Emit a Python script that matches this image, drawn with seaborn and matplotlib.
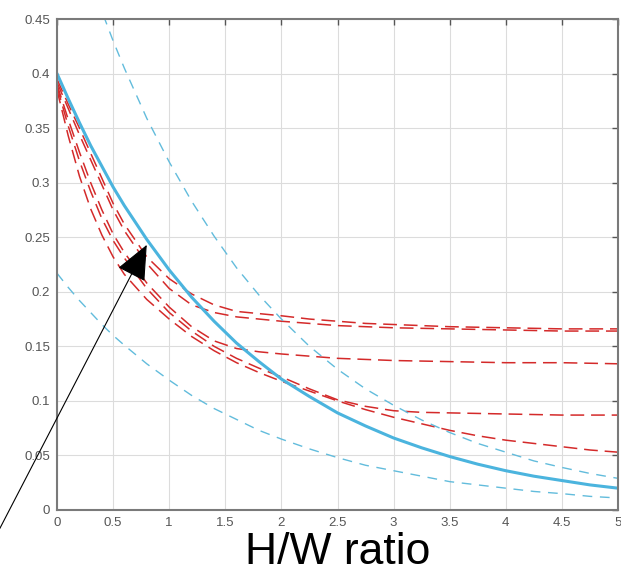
import matplotlib
matplotlib.use("Agg")
import matplotlib.pyplot as plt
import seaborn as sns
import pandas as pd

# ---- data ----
x = [0, 0.1, 0.2, 0.3, 0.4, 0.5, 0.6, 0.8, 1.0, 1.2, 1.4, 1.6, 1.8, 2.0,
     2.25, 2.5, 2.75, 3.0, 3.25, 3.5, 3.75, 4.0, 4.25, 4.5, 4.75, 5.0]

main_curve = [0.400, 0.377, 0.355, 0.334, 0.315, 0.296, 0.279, 0.248, 0.220, 0.195,
              0.173, 0.153, 0.136, 0.120, 0.104, 0.089, 0.077, 0.066, 0.057, 0.049,
              0.042, 0.036, 0.031, 0.027, 0.023, 0.020]
upper_bound = [0.580, 0.547, 0.515, 0.485, 0.457, 0.430, 0.405, 0.359, 0.319, 0.283,
               0.251, 0.222, 0.197, 0.175, 0.150, 0.129, 0.111, 0.096, 0.0825, 0.071,
               0.061, 0.053, 0.045, 0.039, 0.0335, 0.029]
lower_bound = [0.217, 0.204, 0.192, 0.181, 0.170, 0.160, 0.151, 0.134, 0.119, 0.105,
               0.093, 0.083, 0.073, 0.065, 0.056, 0.048, 0.041, 0.036, 0.031, 0.026,
               0.023, 0.020, 0.017, 0.015, 0.0125, 0.011]

red_a = [0.395, 0.372, 0.350, 0.327, 0.304, 0.281, 0.262, 0.232, 0.212, 0.198,
         0.188, 0.182, 0.180, 0.178, 0.175, 0.173, 0.171, 0.170, 0.169, 0.168,
         0.1675, 0.167, 0.1665, 0.166, 0.166, 0.166]
red_b = [0.392, 0.368, 0.344, 0.321, 0.298, 0.275, 0.256, 0.226, 0.203, 0.188,
         0.181, 0.177, 0.175, 0.173, 0.171, 0.169, 0.168, 0.167, 0.1665, 0.166,
         0.1655, 0.165, 0.1645, 0.164, 0.164, 0.164]
red_c = [0.390, 0.358, 0.328, 0.300, 0.275, 0.253, 0.236, 0.208, 0.186, 0.168,
         0.155, 0.148, 0.145, 0.143, 0.141, 0.139, 0.138, 0.137, 0.1365, 0.136,
         0.1355, 0.135, 0.135, 0.135, 0.1345, 0.134]
red_d = [0.388, 0.352, 0.320, 0.292, 0.267, 0.247, 0.231, 0.203, 0.181, 0.164,
         0.150, 0.139, 0.130, 0.122, 0.111, 0.101, 0.095, 0.091, 0.0895, 0.089,
         0.0885, 0.088, 0.0875, 0.087, 0.087, 0.087]
red_e = [0.385, 0.343, 0.306, 0.276, 0.252, 0.232, 0.216, 0.193, 0.175, 0.159,
         0.146, 0.135, 0.126, 0.118, 0.109, 0.100, 0.092, 0.085, 0.079, 0.073,
         0.068, 0.064, 0.061, 0.058, 0.055, 0.053]

x_ticks = [0, 0.5, 1, 1.5, 2, 2.5, 3, 3.5, 4, 4.5, 5]
x_tick_labels = ["0", "0.5", "1", "1.5", "2", "2.5", "3", "3.5", "4", "4.5", "5"]
y_ticks = [0, 0.05, 0.1, 0.15, 0.2, 0.25, 0.3, 0.35, 0.4, 0.45]
y_tick_labels = ["0", "0.05", "0.1", "0.15", "0.2", "0.25", "0.3", "0.35", "0.4", "0.45"]
x_label = "H/W ratio"

# ---- figure ----
sns.set_style("white")
plt.rcParams["font.family"] = ["Liberation Sans", "DejaVu Sans"]

fig = plt.figure(figsize=(6.21, 5.75), dpi=100)
ax = fig.add_axes([57 / 621, 65 / 575, 561 / 621, 491 / 575])

red = "#d42a2a"
cyan_solid = "#4bb4de"
cyan_dash = "#62bcdc"

for series in [red_a, red_b, red_c, red_d, red_e]:
    df = pd.DataFrame({"x": x, "y": series})
    sns.lineplot(data=df, x="x", y="y", ax=ax, color=red, lw=1.1,
                 linestyle=(0, (9, 4.5)))

for series in [upper_bound, lower_bound]:
    df = pd.DataFrame({"x": x, "y": series})
    sns.lineplot(data=df, x="x", y="y", ax=ax, color=cyan_dash, lw=1.0,
                 linestyle=(0, (7, 5.5)))

df = pd.DataFrame({"x": x, "y": main_curve})
sns.lineplot(data=df, x="x", y="y", ax=ax, color=cyan_solid, lw=2.2)

ax.set_xlim(0, 5)
ax.set_ylim(0, 0.45)
ax.set_xticks(x_ticks)
ax.set_xticklabels(x_tick_labels)
ax.set_yticks(y_ticks)
ax.set_yticklabels(y_tick_labels)
ax.grid(True, color="#dcdcdc", lw=0.8)
ax.set_axisbelow(True)
ax.tick_params(direction="in", length=4, width=1, color="#555555",
               labelcolor="#555555", labelsize=9.5, top=True, right=True,
               pad=5)
for s in ax.spines.values():
    s.set_color("#7a7a7a")
    s.set_linewidth(1.5)

ax.set_xlabel(x_label, fontsize=32, color="black", labelpad=2)
ax.set_ylabel("")

ax.annotate("", xy=(0.80, 0.243), xytext=(-0.51, -0.017),
            xycoords="data", textcoords="data", annotation_clip=False,
            arrowprops=dict(arrowstyle="-|>,head_length=1.6,head_width=0.7",
                            color="black", lw=0.8, shrinkA=0, shrinkB=0,
                            mutation_scale=14))

fig.savefig("out.png", dpi=100)
